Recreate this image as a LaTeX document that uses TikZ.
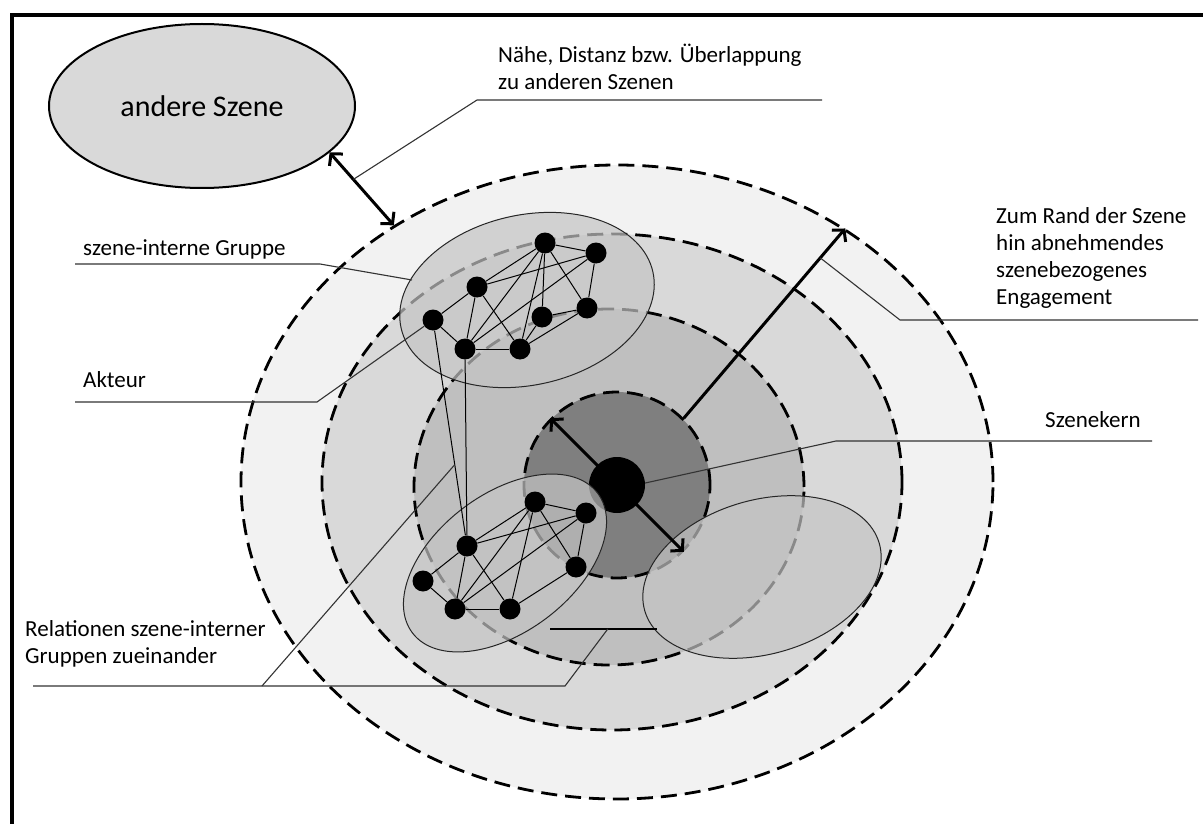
\documentclass[tikz,border=0pt]{standalone}
\usepackage{fontspec}
\setmainfont{Carlito}
\usetikzlibrary{arrows.meta,shapes.geometric,calc}

\definecolor{ringA}{HTML}{F2F2F2}
\definecolor{ringB}{HTML}{D9D9D9}
\definecolor{ringC}{HTML}{BFBFBF}
\definecolor{ringD}{HTML}{7F7F7F}
\definecolor{grpfill}{HTML}{C4C4C4}
\definecolor{leadercol}{HTML}{333333}

\begin{document}
\begin{tikzpicture}[x=1pt,y=-1pt,
  ring/.style={ellipse, inner sep=0pt, draw=black, line width=2.8pt, dash pattern=on 16pt off 8pt},
  grp/.style={ellipse, inner sep=0pt, draw=black!85, line width=1pt, fill=grpfill, fill opacity=0.7},
  actor/.style={circle, fill=black, inner sep=0pt, minimum size=21pt},
  tie/.style={line width=1pt, draw=black},
  link/.style={line width=2.5pt, draw=black},
  leader/.style={draw=leadercol, line width=1.1pt},
  barb/.tip={Straight Barb[length=8pt,width=18pt]},
  bigarrow/.style={line width=3pt, draw=black},
  lbl/.style={anchor=base west, align=left, inner sep=0pt, font=\fontsize{23}{27}\selectfont},
]
% canvas and frame
\fill[white] (0,0) rectangle (1203,824);
\useasboundingbox (0,0) rectangle (1203,824);
\draw[line width=4pt, line join=miter] (12,824) -- (12,15) -- (1203,15);

% concentric zones of the scene
\node[ring, fill=ringA, minimum width=752, minimum height=634] (ring4) at (617,482) {};
\node[ring, fill=ringB, minimum width=580, minimum height=496] (ring3) at (612,482) {};
\node[ring, fill=ringC, minimum width=390, minimum height=356] (ring2) at (609,487) {};
\node[ring, fill=ringD, circle, minimum size=186] (core) at (617,485) {};
\node[circle, fill=black, inner sep=0pt, minimum size=56] (kern) at (617,485) {};

% groups (semi-transparent)
\node[grp, rotate=16, minimum width=244, minimum height=154] (grpR) at (762,577) {};
\node[grp, rotate=12.6, minimum width=258, minimum height=170] (grpU) at (527,300) {};
\node[grp, rotate=37, minimum width=232, minimum height=138] (grpL) at (505,563) {};

% other scene
\node[ellipse, draw=black, line width=2pt, fill=ringB, inner sep=0pt,
      minimum width=306, minimum height=164,
      font=\fontsize{30}{36}\selectfont] (andere) at (202,106) {andere Szene};

% actors of the upper group
\node[actor] (u1) at (545,243) {};
\node[actor] (u2) at (596,253) {};
\node[actor] (u3) at (477,287) {};
\node[actor] (u4) at (433,320) {};
\node[actor] (u5) at (542,317) {};
\node[actor] (u6) at (587,308) {};
\node[actor] (u7) at (465,349) {};
\node[actor] (u8) at (520,349) {};

% actors of the lower group
\node[actor] (l1) at (535,502) {};
\node[actor] (l2) at (586,513) {};
\node[actor] (l3) at (467,546) {};
\node[actor] (l4) at (576,567) {};
\node[actor] (l5) at (423,581) {};
\node[actor] (l6) at (455,609) {};
\node[actor] (l7) at (510,609) {};

% ties inside the upper group
\foreach \a/\b in {u1/u2,u1/u3,u1/u5,u1/u6,u1/u7,u1/u8,u2/u3,u2/u6,u2/u7,
                   u3/u4,u3/u7,u3/u8,u4/u7,u5/u6,u5/u8,u6/u8,u7/u8}
  \draw[tie] (\a) -- (\b);

% ties inside the lower group
\foreach \a/\b in {l1/l2,l1/l3,l1/l4,l1/l6,l1/l7,l2/l3,l2/l4,l2/l6,
                   l3/l5,l3/l6,l3/l7,l4/l7,l5/l6,l6/l7}
  \draw[tie] (\a) -- (\b);

% ties between the groups
\draw[tie] (u4) -- (l3);
\draw[tie] (u7) -- (l3);
\coordinate (linkL) at (550,629);
\coordinate (linkR) at (657,629);
\draw[link] (linkL) -- (linkR);

% arrows
\draw[bigarrow, {barb}-{barb}] (core.135) -- (core.-45);
\draw[bigarrow, -{barb}] (core.45) -- (ring4.48);
\draw[bigarrow, {barb}-{barb}] (andere.-20) -- (ring4.131);

% labels (anchored at the baseline of their last line)
\node[lbl] (lblNaehe) at (498,90) {Nähe, Distanz bzw. Überlappung\\zu anderen Szenen};
\node[lbl] (lblRand) at (996,304) {Zum Rand der Szene\\hin abnehmendes\\szenebezogenes\\Engagement};
\node[lbl] (lblKern) at (1045,427) {Szenekern};
\node[lbl] (lblGruppe) at (83,255) {szene-interne Gruppe};
\node[lbl] (lblAkteur) at (83,387) {Akteur};
\node[lbl] (lblRel) at (25,663) {Relationen szene-interner\\Gruppen zueinander};

% leader lines
\coordinate (nA) at (822,100);
\coordinate (nB) at (477,100);
\draw[leader] (nA) -- (nB) -- ($(andere.-20)!0.37!(ring4.131)$);

\coordinate (rA) at (1198,320);
\coordinate (rB) at (900,320);
\draw[leader] (rA) -- (rB) -- ($(core.45)!0.845!(ring4.48)$);

\coordinate (kA) at (1152,441);
\coordinate (kB) at (836,441);
\draw[leader] (kA) -- (kB) -- (kern.4);

\coordinate (gA) at (75,264);
\coordinate (gB) at (320,264);
\coordinate (gC) at (412,280);
\draw[leader] (gA) -- (gB) -- (gC);

\coordinate (aA) at (75,402);
\coordinate (aB) at (317,402);
\draw[leader] (aA) -- (aB) -- (u4);

\coordinate (eA) at (33,686);
\coordinate (eB) at (262,686);
\coordinate (eC) at (565,686);
\draw[leader] (eA) -- (eC) -- ($(linkL)!0.54!(linkR)$);
\draw[leader] (eB) -- ($(u4)!0.64!(l3)$);
\end{tikzpicture}
\end{document}
